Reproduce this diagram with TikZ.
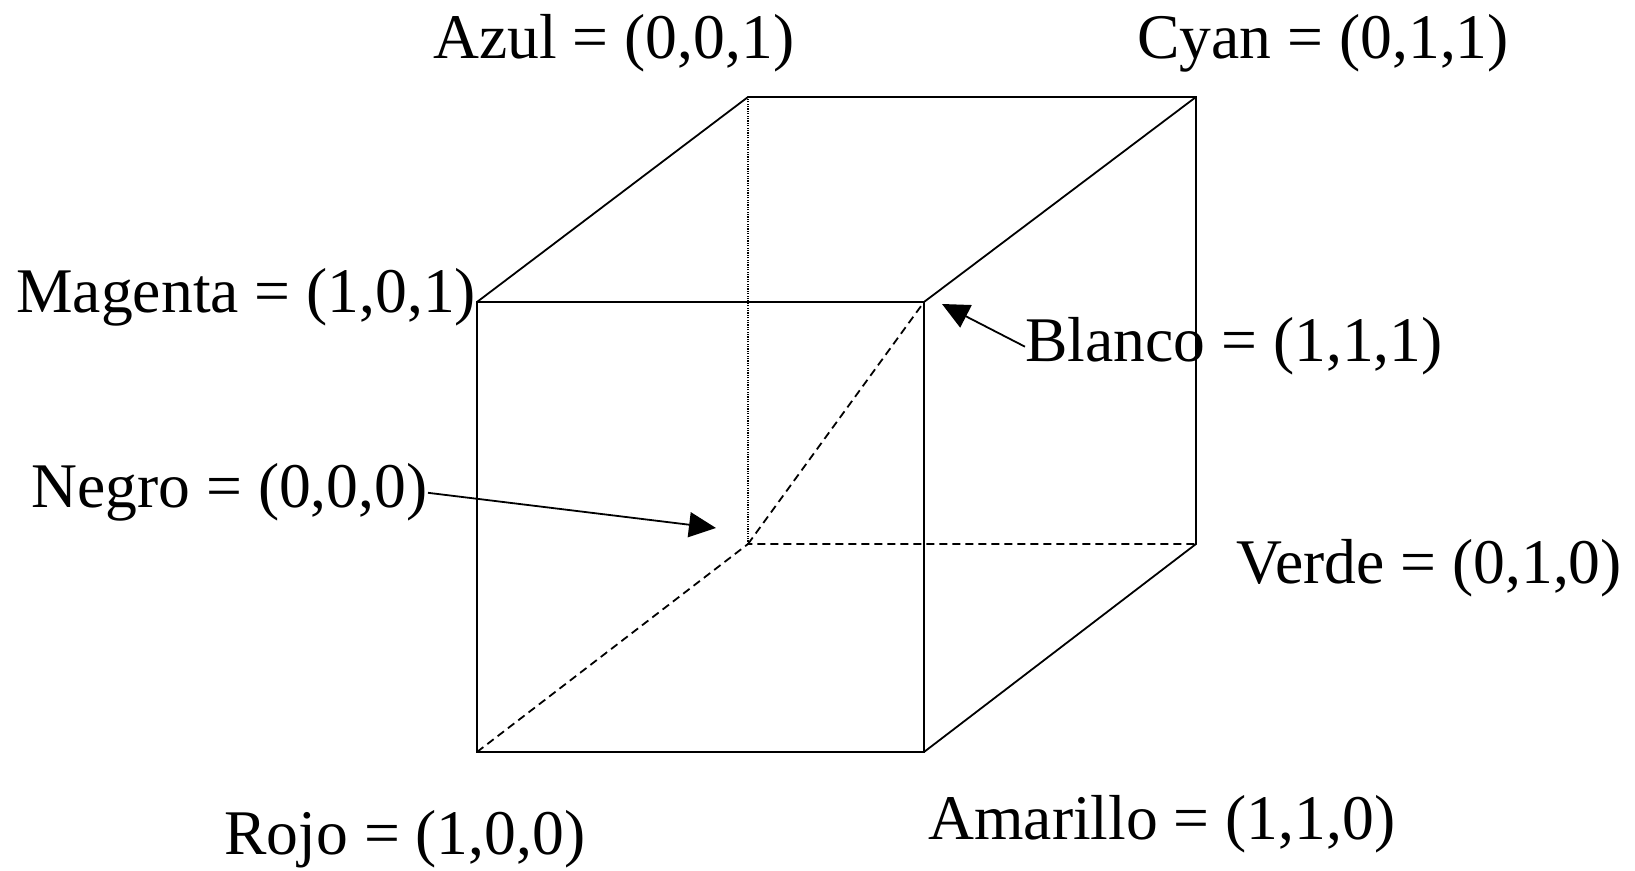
\documentclass[tikz,border=0pt]{standalone}
\usepackage{fontspec}
\setmainfont{Liberation Serif}
\usepackage{tikz}
\usetikzlibrary{arrows.meta}

\begin{document}
\begin{tikzpicture}[x=0.5pt, y=-0.5pt,
    edge/.style={line width=0.9pt},
    hidden/.style={line width=0.9pt, dash pattern=on 4pt off 2.5pt},
    faint/.style={line width=0.6pt, dash pattern=on 0.6pt off 0.6pt},
    pointer/.style={line width=0.9pt, -{Triangle[length=13.5pt, width=12.5pt]}},
    colorlabel/.style={anchor=base west, inner sep=0pt, font=\fontsize{31.8}{38}\selectfont}]
  \useasboundingbox (0,0) rectangle (1635,871);

  % corners of the cube
  \coordinate (rojo) at (477,752);
  \coordinate (amarillo) at (924,752);
  \coordinate (magenta) at (477,302);
  \coordinate (blanco) at (924,302);
  \coordinate (negro) at (748,544);
  \coordinate (verde) at (1196,544);
  \coordinate (azul) at (748,97);
  \coordinate (cyan) at (1196,97);

  % visible edges
  \draw[edge] (rojo) -- (amarillo) -- (blanco) -- (magenta) -- cycle;
  \draw[edge] (magenta) -- (azul) -- (cyan) -- (verde) -- (amarillo);
  \draw[edge] (blanco) -- (cyan);

  % hidden edges
  \draw[hidden] (rojo) -- (negro) -- (verde);
  \draw[hidden] (negro) -- (blanco);
  \draw[faint] (negro) -- (azul);

  % labels
  \node[colorlabel] (lblAzul) at (433,59) {Azul = (0,0,1)};
  \node[colorlabel] (lblCyan) at (1137,59) {Cyan = (0,1,1)};
  \node[colorlabel] (lblMagenta) at (16,313) {Magenta = (1,0,1)};
  \node[colorlabel] (lblBlanco) at (1025,362) {Blanco = (1,1,1)};
  \node[colorlabel] (lblNegro) at (31,508) {Negro = (0,0,0)};
  \node[colorlabel] (lblVerde) at (1236,584) {Verde = (0,1,0)};
  \node[colorlabel] (lblRojo) at (224,855) {Rojo = (1,0,0)};
  \node[colorlabel] (lblAmarillo) at (928,839) {Amarillo = (1,1,0)};

  % pointers
  \coordinate (negroTip) at (716,528);
  \coordinate (blancoTip) at (942,304);
  \draw[pointer] (lblNegro.east) -- (negroTip);
  \draw[pointer] (lblBlanco.west) -- (blancoTip);
\end{tikzpicture}
\end{document}
